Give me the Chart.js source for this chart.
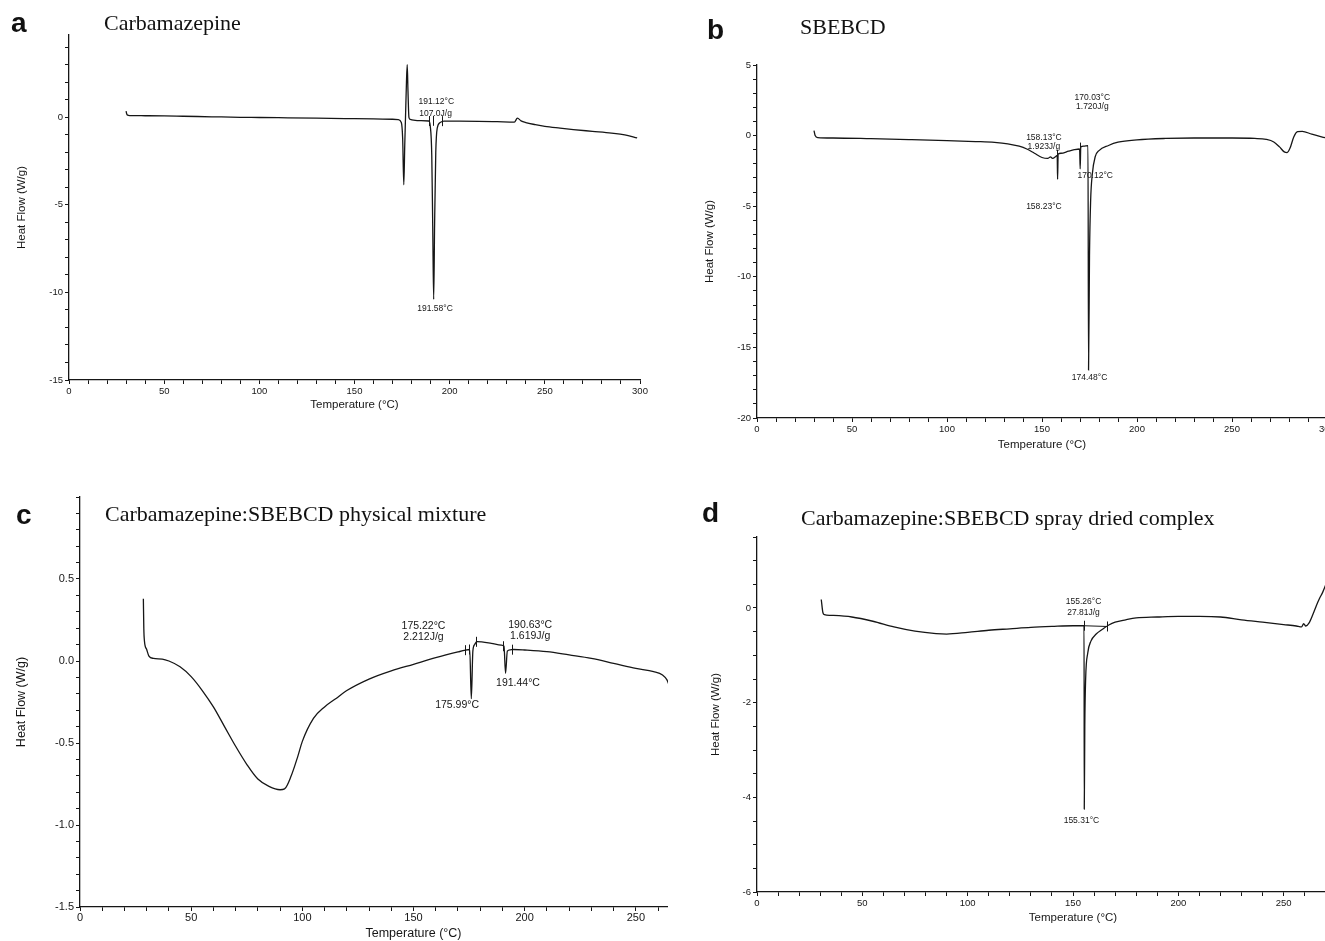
<!DOCTYPE html>
<html>
<head>
<meta charset="utf-8">
<script src="https://cdn.jsdelivr.net/npm/chart.js@4.4.1/dist/chart.umd.min.js"></script>
<style>
  body { margin: 0; width: 1325px; height: 941px; overflow: hidden; background: #fff; position: relative; }
  canvas { position: absolute; }
  .clip { position: absolute; overflow: hidden; }
  .let { position: absolute; font: bold 28px/28px "Liberation Sans", Arial, sans-serif; color: #111; }
  .ttl { position: absolute; font: 22px/22px "Liberation Serif", "Times New Roman", serif; color: #111; white-space: nowrap; }
</style>
</head>
<body>
<canvas id="ca" width="660" height="420" style="left:0;top:0"></canvas>
<canvas id="cb" width="700" height="460" style="left:660px;top:0"></canvas>
<div class="clip" style="left:0;top:470px;width:668px;height:471px">
  <canvas id="cc" width="790" height="471" style="left:0;top:0"></canvas>
</div>
<canvas id="cd" width="730" height="441" style="left:680px;top:500px"></canvas>

<div class="let" style="left:11px;top:9px">a</div>
<div class="ttl" style="left:104px;top:12px">Carbamazepine</div>
<div class="let" style="left:707px;top:16px">b</div>
<div class="ttl" style="left:800px;top:16px">SBEBCD</div>
<div class="let" style="left:16px;top:501px">c</div>
<div class="ttl" style="left:105px;top:503px">Carbamazepine:SBEBCD physical mixture</div>
<div class="let" style="left:702px;top:499px">d</div>
<div class="ttl" style="left:801px;top:507px">Carbamazepine:SBEBCD spray dried complex</div>

<script>
// a - Carbamazepine
const tempA = [30, 30.3, 30.8, 32, 40, 50, 60, 75, 90, 100, 115, 130, 145, 160, 170, 173, 174.6, 175.3, 175.9, 176.4, 176.8, 177.3, 177.7, 178.1, 178.6, 179.3, 181, 185, 189, 189.8, 190.6, 191.1, 191.6, 192.1, 192.7, 193.5, 195, 197, 205, 215, 225, 234, 235.6, 237.5, 240, 245, 250, 258, 265, 275, 285, 292, 298.5];
const flowA = [0.35, 0.2, 0.12, 0.1, 0.09, 0.08, 0.06, 0.03, 0.0, -0.01, -0.03, -0.05, -0.07, -0.09, -0.11, -0.13, -0.3, -1.2, -3.85, -1.6, 0.0, 2.0, 3.0, 1.5, 0.0, -0.12, -0.16, -0.19, -0.21, -0.5, -2.2, -6.2, -10.4, -6.0, -2.0, -0.6, -0.3, -0.22, -0.22, -0.23, -0.25, -0.27, -0.05, -0.2, -0.3, -0.42, -0.52, -0.62, -0.7, -0.8, -0.9, -1.0, -1.18];
const xTicksA = [0, 50, 100, 150, 200, 250, 300];
const yTicksA = [0, -5, -10, -15];
const notesA = [['191.12°C', 193, 0.87], ['107.0J/g', 192.6, 0.22], ['191.58°C', 192.3, -10.9]];
const marksA = [[189.2, -0.21], [191.1, -0.2], [195.8, -0.22]];

// b - SBEBCD
const tempB = [30, 30.6, 32, 40, 60, 80, 100, 115, 125, 132, 138, 142, 146, 150, 153, 154.5, 155.5, 157.5, 158.0, 158.2, 158.5, 160, 164, 167, 169.8, 170.1, 170.4, 172, 174.2, 174.5, 175, 175.6, 176.5, 178, 180, 185, 190, 200, 215, 230, 250, 262, 268, 272, 275, 277.5, 279, 280.5, 282.5, 284.5, 287, 292, 299];
const flowB = [0.35, 0.0, -0.14, -0.17, -0.22, -0.28, -0.35, -0.42, -0.48, -0.58, -0.75, -0.95, -1.25, -1.55, -1.62, -1.5, -1.62, -1.45, -1.4, -3.1, -1.3, -1.25, -1.1, -1.0, -0.95, -2.35, -0.8, -0.75, -0.72, -16.6, -8.5, -4.6, -2.7, -1.5, -1.06, -0.7, -0.47, -0.3, -0.2, -0.17, -0.17, -0.2, -0.27, -0.45, -0.8, -1.15, -1.2, -0.9, -0.1, 0.28, 0.3, 0.1, -0.15];
const xTicksB = [0, 50, 100, 150, 200, 250, 300];
const yTicksB = [5, 0, -5, -10, -15, -20];
const notesB = [['170.03°C', 176.5, 2.7], ['1.720J/g', 176.5, 2.05], ['158.13°C', 151, -0.12], ['1.923J/g', 151, -0.8], ['170.12°C', 178, -2.85], ['158.23°C', 151, -5.0], ['174.48°C', 175, -17.15]];
const marksB = [[158.1, -1.35], [169.8, -0.85]];

// c - physical mixture
const tempC = [28.5, 28.7, 29, 30, 31, 33, 37, 40, 45, 50, 55, 60, 65, 70, 75, 80, 85, 90, 92, 95, 98, 100, 105, 110, 115, 120, 130, 140, 150, 160, 170, 173.5, 175.3, 176, 176.7, 177.5, 178.5, 185, 189.5, 190.7, 191.4, 192.2, 193.5, 195, 200, 210, 220, 230, 240, 250, 258, 262, 264, 265.5];
const flowC = [0.38, 0.2, 0.12, 0.07, 0.03, 0.016, 0.012, 0.0, -0.035, -0.095, -0.18, -0.28, -0.4, -0.52, -0.63, -0.72, -0.765, -0.785, -0.78, -0.7, -0.58, -0.49, -0.35, -0.28, -0.23, -0.18, -0.11, -0.06, -0.02, 0.02, 0.055, 0.066, 0.07, -0.23, 0.06, 0.1, 0.118, 0.108, 0.097, 0.09, -0.075, 0.06, 0.068, 0.07, 0.067, 0.057, 0.037, 0.016, -0.014, -0.045, -0.065, -0.085, -0.115, -0.166];
const xTicksC = [0, 50, 100, 150, 200, 250, 300];
const yTicksC = [0.5, 0.0, -0.5, -1.0, -1.5];
const notesC = [['175.22°C', 154.5, 0.21], ['2.212J/g', 154.5, 0.148], ['190.63°C', 202.5, 0.219], ['1.619J/g', 202.5, 0.154], ['191.44°C', 197, -0.136], ['175.99°C', 169.6, -0.27]];
const marksC = [[173.3, 0.066], [175.1, 0.07], [178.3, 0.117], [190.3, 0.09], [194.3, 0.069]];

// d - spray dried complex
const tempD = [30.5, 31.3, 32, 35, 45, 55, 65, 75, 85, 90, 100, 110, 120, 130, 140, 150, 155.25, 155.35, 155.6, 156, 157, 158.5, 161, 164, 167, 170, 175, 180, 190, 200, 210, 220, 230, 240, 250, 256, 258.5, 259.5, 260.5, 262, 264, 265.5, 267, 268.5, 270.5];
const flowD = [0.18, -0.1, -0.14, -0.155, -0.19, -0.28, -0.4, -0.49, -0.54, -0.55, -0.515, -0.47, -0.44, -0.41, -0.39, -0.375, -0.375, -4.25, -2.5, -1.5, -0.95, -0.7, -0.55, -0.45, -0.36, -0.3, -0.25, -0.21, -0.19, -0.176, -0.176, -0.19, -0.25, -0.3, -0.35, -0.38, -0.4, -0.33, -0.38, -0.32, -0.12, 0.05, 0.2, 0.33, 0.55];
const baseTempD = [155.3, 166];
const baseFlowD = [-0.375, -0.39];
const xTicksD = [0, 50, 100, 150, 200, 250, 300];
const yTicksD = [0, -2, -4, -6];
const notesD = [['155.26°C', 155, 0.14], ['27.81J/g', 155, -0.09], ['155.31°C', 154, -4.5]];
const marksD = [[155.3, -0.375], [166, -0.39]];

Chart.defaults.font.family = '"Liberation Sans", Arial, sans-serif';
const INK = '#161616';

function tickList(min, max, step) {
  const out = [];
  for (let i = Math.ceil(min / step - 1e-9); i * step <= max + 1e-9; i++) out.push(+(i * step).toFixed(4));
  return out;
}
const isMajor = (list, v) => list.some(m => Math.abs(m - v) < 1e-6);

// labels and little integration marks, placed through the scales
function notesPlugin(notes, marks, size) {
  return {
    id: 'notes',
    afterDatasetsDraw(chart) {
      const { ctx, scales: { x, y } } = chart;
      ctx.save();
      ctx.strokeStyle = INK;
      ctx.lineWidth = 1;
      marks.forEach(m => {
        const px = Math.round(x.getPixelForValue(m[0])) + 0.5, py = y.getPixelForValue(m[1]);
        ctx.beginPath(); ctx.moveTo(px, py - 5); ctx.lineTo(px, py + 5); ctx.stroke();
      });
      ctx.fillStyle = INK;
      ctx.font = size + 'px "Liberation Sans", Arial, sans-serif';
      ctx.textAlign = 'center';
      ctx.textBaseline = 'middle';
      notes.forEach(n => ctx.fillText(n[0], x.getPixelForValue(n[1]), y.getPixelForValue(n[2])));
      ctx.restore();
    }
  };
}

function line(temps, flows) {
  return {
    data: temps.map((t, i) => ({ x: t, y: flows[i] })),
    showLine: true, borderColor: INK, borderWidth: 1.3, pointRadius: 0,
    cubicInterpolationMode: 'monotone', fill: false
  };
}

function buildChart(id, p) {
  const xAll = tickList(p.xMin, p.xMax, p.xMinor);
  const yAll = tickList(p.yMin, p.yMax, p.yMinor);
  const grid = { drawOnChartArea: false, drawTicks: true, tickLength: 4, color: INK, lineWidth: 1 };
  const border = { display: true, color: INK, width: 1.3 };
  return new Chart(document.getElementById(id), {
    type: 'scatter',
    data: { datasets: p.datasets },
    options: {
      responsive: false, animation: false, devicePixelRatio: 1,
      layout: { padding: p.pad },
      plugins: { legend: { display: false }, tooltip: { enabled: false } },
      scales: {
        x: {
          type: 'linear', position: 'bottom', min: p.xMin, max: p.xMax,
          afterBuildTicks: s => { s.ticks = xAll.map(v => ({ value: v })); },
          afterFit: s => { s.height = p.xH; },
          grid, border,
          ticks: { autoSkip: false, maxRotation: 0, padding: p.xTickPad, color: INK, font: { size: p.tickSize },
                   callback: v => isMajor(p.xTicks, v) ? String(v) : '' },
          title: { display: true, text: 'Temperature (°C)', color: INK, font: { size: p.titleSize },
                   padding: { top: 0, bottom: p.xTitlePad } }
        },
        y: {
          type: 'linear', position: 'left', min: p.yMin, max: p.yMax,
          afterBuildTicks: s => { s.ticks = yAll.map(v => ({ value: v })); },
          afterFit: s => { s.width = p.yW; },
          grid, border,
          ticks: { autoSkip: false, padding: 2, color: INK, font: { size: p.tickSize },
                   callback: v => isMajor(p.yTicks, v) ? p.yFmt(v) : '' },
          title: { display: true, text: 'Heat Flow (W/g)', color: INK, font: { size: p.titleSize },
                   padding: { top: p.yTitlePad, bottom: 0 } }
        }
      }
    },
    plugins: [notesPlugin(p.notes, p.marks, p.noteSize)]
  });
}

const intFmt = v => String(Math.round(v));

buildChart('ca', {
  datasets: [line(tempA, flowA)],
  xMin: 0, xMax: 300, xMinor: 10, xTicks: xTicksA,
  yMin: -15, yMax: 4.7, yMinor: 1, yTicks: yTicksA, yFmt: intFmt,
  pad: { left: 10, top: 35, right: 20, bottom: 0 }, yW: 59, xH: 40,
  tickSize: 9.5, titleSize: 11.5, xTickPad: 2, xTitlePad: 8, yTitlePad: 5,
  notes: notesA, marks: marksA, noteSize: 8.5
});

buildChart('cb', {
  datasets: [line(tempB, flowB)],
  xMin: 0, xMax: 300, xMinor: 10, xTicks: xTicksB,
  yMin: -20, yMax: 5, yMinor: 1, yTicks: yTicksB, yFmt: intFmt,
  pad: { left: 38, top: 65, right: 33, bottom: 0 }, yW: 59, xH: 42,
  tickSize: 9.5, titleSize: 11.5, xTickPad: 2, xTitlePad: 8, yTitlePad: 5,
  notes: notesB, marks: marksB, noteSize: 8.5
});

buildChart('cc', {
  datasets: [line(tempC, flowC)],
  xMin: 0, xMax: 300, xMinor: 10, xTicks: xTicksC,
  yMin: -1.5, yMax: 1.0, yMinor: 0.1, yTicks: yTicksC, yFmt: v => v.toFixed(1),
  pad: { left: 8, top: 27, right: 43, bottom: 0 }, yW: 72, xH: 34,
  tickSize: 11, titleSize: 12.5, xTickPad: 0, xTitlePad: 0, yTitlePad: 6,
  notes: notesC, marks: marksC, noteSize: 10.5
});

const baseD = line(baseTempD, baseFlowD);
baseD.borderWidth = 1;
buildChart('cd', {
  datasets: [line(tempD, flowD), baseD],
  xMin: 0, xMax: 300, xMinor: 10, xTicks: xTicksD,
  yMin: -6, yMax: 1.5, yMinor: 0.5, yTicks: yTicksD, yFmt: intFmt,
  pad: { left: 25, top: 37, right: 21, bottom: 0 }, yW: 52, xH: 49,
  tickSize: 9.5, titleSize: 11.5, xTickPad: 2, xTitlePad: 16, yTitlePad: 4,
  notes: notesD, marks: marksD, noteSize: 8.5
});
</script>
</body>
</html>
